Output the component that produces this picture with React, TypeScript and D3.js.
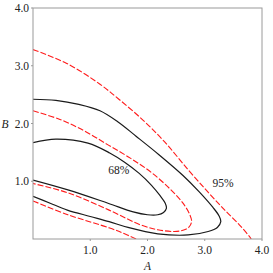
import * as d3 from 'd3';
import React, { useEffect, useRef } from 'react';

// contour points, as [A, B]
const black95 = [
  [0, 2.42], [0.4, 2.4], [0.8, 2.33], [1.17, 2.22], [1.48, 2.03], [1.8, 1.78],
  [2.2, 1.46], [2.62, 1.1], [2.9, 0.82], [3.14, 0.55], [3.25, 0.4], [3.28, 0.3],
  [3.22, 0.2], [3.06, 0.13], [2.71, 0.07], [2.18, 0.09], [1.66, 0.2], [1.33, 0.3],
  [1.0, 0.39], [0.6, 0.5], [0.3, 0.62], [0, 0.74],
];
const black68 = [
  [0, 1.67], [0.4, 1.73], [0.96, 1.66], [1.34, 1.49], [1.6, 1.33], [1.85, 1.14],
  [2.07, 0.93], [2.22, 0.75], [2.31, 0.62], [2.33, 0.53], [2.28, 0.46], [2.18, 0.42],
  [2.0, 0.42], [1.75, 0.47], [1.31, 0.62], [0.61, 0.85], [0, 1.02],
];
const red68 = [
  [0, 2.22], [0.47, 2.07], [0.9, 1.87], [1.31, 1.63], [1.7, 1.4], [2.07, 1.15],
  [2.4, 0.86], [2.62, 0.62], [2.74, 0.42], [2.77, 0.3], [2.72, 0.2], [2.62, 0.15],
  [2.47, 0.13], [2.18, 0.16], [1.89, 0.24], [1.33, 0.5], [0.61, 0.8], [0, 0.96],
];
const red95Upper = [
  [0, 3.28], [0.59, 3.04], [1.17, 2.68], [1.5, 2.42], [1.92, 2.06], [2.3, 1.68],
  [2.71, 1.2], [3.05, 0.82], [3.35, 0.5], [3.6, 0.25], [3.75, 0.08], [3.81, 0], [3.83, -0.05],
];
const red95Lower = [
  [0, 0.66], [0.61, 0.42], [1.34, 0.19], [1.6, 0.09], [1.8, 0], [1.85, -0.03],
];
const ticks = [1.0, 2.0, 3.0, 4.0];
const labels = [
  { text: '68%', a: 1.5, b: 1.19 },
  { text: '95%', a: 3.32, b: 0.97 },
];

const App = () => {
  const svgRef = useRef(null);

  useEffect(() => {
    const width = 273;
    const height = 273;
    const margin = { top: 8, right: 11, bottom: 34, left: 33 };
    const font = 'Liberation Serif, Times New Roman, DejaVu Serif, serif';

    const x = d3.scaleLinear().domain([0, 4]).range([margin.left, width - margin.right]);
    const y = d3.scaleLinear().domain([0, 4]).range([height - margin.bottom, margin.top]);

    const svg = d3.select(svgRef.current);
    svg.selectAll('*').remove();
    svg.attr('width', width).attr('height', height);

    svg.append('clipPath').attr('id', 'plot')
      .append('rect')
      .attr('x', x(0)).attr('y', y(4))
      .attr('width', x(4) - x(0)).attr('height', y(0) - y(4));

    const line = d3.line()
      .x(d => x(d[0]))
      .y(d => y(d[1]))
      .curve(d3.curveCatmullRom);

    const g = svg.append('g').attr('clip-path', 'url(#plot)');

    [red95Upper, red95Lower, red68].forEach(pts => {
      g.append('path')
        .attr('d', line(pts))
        .attr('fill', 'none')
        .attr('stroke', '#ff1a1a')
        .attr('stroke-width', 1.1)
        .attr('stroke-dasharray', '6,2');
    });
    [black95, black68].forEach(pts => {
      g.append('path')
        .attr('d', line(pts))
        .attr('fill', 'none')
        .attr('stroke', '#1a1a1a')
        .attr('stroke-width', 1.2);
    });

    // frame
    svg.append('rect')
      .attr('x', x(0)).attr('y', y(4))
      .attr('width', x(4) - x(0)).attr('height', y(0) - y(4))
      .attr('fill', 'none')
      .attr('stroke', '#9a9a9a')
      .attr('stroke-width', 1);

    const text = (tx, ty, s, anchor, italic = false) => {
      svg.append('text')
        .attr('x', tx).attr('y', ty)
        .attr('text-anchor', anchor)
        .attr('font-family', font)
        .attr('font-size', 11.5)
        .attr('font-style', italic ? 'italic' : 'normal')
        .attr('fill', '#222')
        .text(s);
    };

    // ticks
    ticks.forEach(t => {
      svg.append('line')
        .attr('x1', x(t)).attr('x2', x(t))
        .attr('y1', y(0)).attr('y2', y(0) + 2)
        .attr('stroke', '#9a9a9a');
      svg.append('line')
        .attr('x1', x(0) - 2).attr('x2', x(0))
        .attr('y1', y(t)).attr('y2', y(t))
        .attr('stroke', '#9a9a9a');
      text(x(t), y(0) + 15, t.toFixed(1), 'middle');
      text(x(0) - 4, y(t) + 4, t.toFixed(1), 'end');
    });

    // axis titles
    text(x(2), y(0) + 31, 'A', 'middle', true);
    text(5, y(2) + 4, 'B', 'middle', true);

    // contour labels
    labels.forEach(l => text(x(l.a), y(l.b) + 4, l.text, 'middle'));
  }, []);

  return <svg ref={svgRef} style={{ position: 'absolute', left: 0, top: 0 }}></svg>;
};

export default App;
